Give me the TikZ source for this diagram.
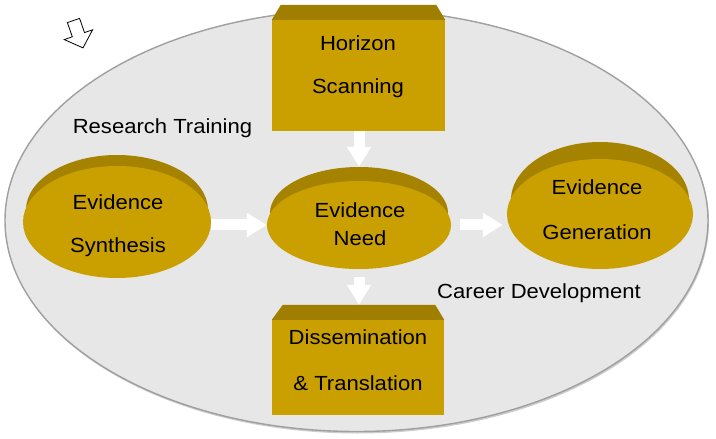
\documentclass[tikz,border=0pt]{standalone}
\usepackage{fontspec}
\setmainfont{Liberation Sans}
\usetikzlibrary{shapes.geometric,arrows.meta,calc}
\definecolor{gold}{RGB}{201,160,0}
\definecolor{golddark}{RGB}{165,131,0}
\definecolor{boxdark}{RGB}{160,127,0}
\definecolor{bgfill}{RGB}{231,231,231}
\definecolor{rim}{RGB}{160,160,160}
\newcommand{\lbl}[1]{\scalebox{1.08}[1]{#1}}
\begin{document}
\begin{tikzpicture}[x=1bp,y=-1bp,
  disc/.style={ellipse, fill=gold, inner sep=0pt},
  discback/.style={ellipse, fill=golddark, inner sep=0pt},
  boxfront/.style={rectangle, fill=gold, inner sep=0pt},
  boxtop/.style={fill=boxdark},
  txt/.style={font=\fontsize{20.5}{24}\selectfont, text=black, inner sep=0pt},
  blockarrow/.style={draw=white, line width=11bp, -{Triangle[width=23bp,length=20bp,fill=white]}},
]
\useasboundingbox (0,0) rectangle (716,439);
\fill[white] (0,0) rectangle (716,439);

% background field
\fill[gray!40] (357.5,222.5) ellipse [x radius=351.5, y radius=211];
\node[ellipse, fill=bgfill, inner sep=0pt, minimum width=703bp, minimum height=422bp] (field) at (356.5,220.5) {};
\draw[rim, line width=1.4bp] (356.5,220.5) ellipse [x radius=351.5, y radius=211];

% small outline arrow
\draw[black, line width=0.8bp, fill=white, line join=miter]
  (67.4,22.6) -- (79.6,18.4) -- (84.5,32.6) -- (92.6,29.8) -- (83,47.9) -- (64.3,39.6) -- (72.3,36.8) -- cycle;

% discs
\node[discback, minimum width=182bp, minimum height=110bp] (synthback) at (117,210) {};
\node[disc, minimum width=188bp, minimum height=112bp] (synth) at (117,222) {};
\node[discback, minimum width=178bp, minimum height=92bp] (needback) at (359,213) {};
\node[disc, minimum width=184bp, minimum height=88bp] (need) at (359,225) {};
\node[discback, minimum width=178bp, minimum height=116bp] (genback) at (600,200) {};
\node[disc, minimum width=186bp, minimum height=110bp] (gen) at (600,214) {};

% boxes
\node[boxfront, minimum width=173bp, minimum height=111bp] (horizon) at (358.5,75.5) {};
\fill[boxtop] (horizon.north west) -- ++(9,-15) -- ($(horizon.north east)+(-9,-15)$) -- (horizon.north east) -- cycle;
\node[boxfront, minimum width=172bp, minimum height=95bp] (dissem) at (358,367.5) {};
\fill[boxtop] (dissem.north west) -- ++(11,-15) -- ($(dissem.north east)+(-9,-15)$) -- (dissem.north east) -- cycle;
\coordinate (dissemtop) at ($(dissem.north)+(0,-15)$);

% arrows
\draw[blockarrow] (synth.east |- need.west) -- (need.west);
\draw[blockarrow, shorten <=9bp, shorten >=4bp] (need.east) -- (need.east -| gen.west);
\draw[blockarrow] (horizon.south -| needback.north) -- (needback.north);
\draw[blockarrow, shorten <=8bp] (need.south) -- (need.south |- dissemtop);

% texts
\node[txt] (t1) at (358,43) {\lbl{Horizon}};
\node[txt] (t2) at (358,88) {\lbl{Scanning}};
\node[txt] (t3) at (358,337) {\lbl{Dissemination}};
\node[txt] (t4) at (358,383) {\lbl{\& Translation}};
\node[txt] (t5) at (118,202) {\lbl{Evidence}};
\node[txt] (t6) at (118,247) {\lbl{Synthesis}};
\node[txt] (t7) at (360,210) {\lbl{Evidence}};
\node[txt] (t8) at (360,238) {\lbl{Need}};
\node[txt] (t9) at (597,187) {\lbl{Evidence}};
\node[txt] (t10) at (597,232) {\lbl{Generation}};
\node[txt] (t11) at (162.5,128) {\lbl{Research Training}};
\node[txt] (t12) at (539,293) {\lbl{Career Development}};
\end{tikzpicture}
\end{document}
